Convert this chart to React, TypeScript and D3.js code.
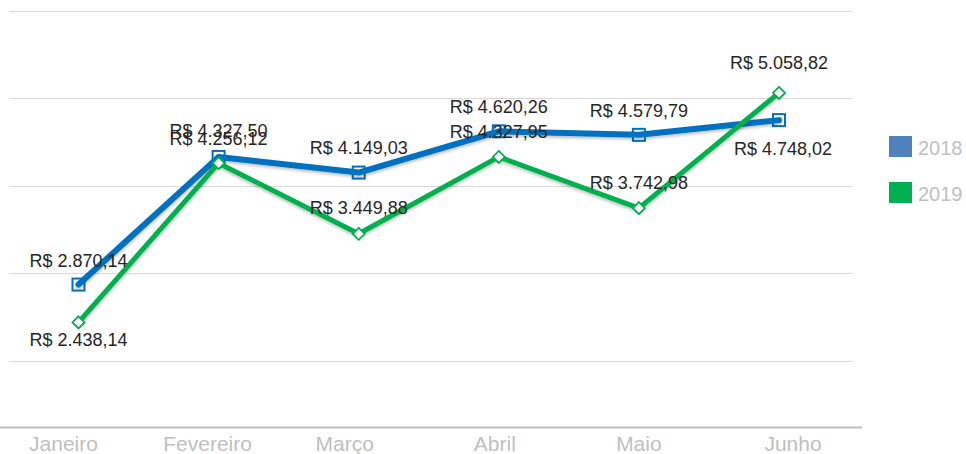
import React from "react";
import * as d3 from "d3";

const categories = ["Janeiro", "Fevereiro", "Março", "Abril", "Maio", "Junho"];
const values2018 = [2870.14, 4327.5, 4149.03, 4620.26, 4579.79, 4748.02];
const values2019 = [2438.14, 4256.12, 3449.88, 4327.95, 3742.98, 5058.82];
const gridTicks = [2000, 3000, 4000, 5000, 6000];
const seriesNames = ["2018", "2019"];

// layout: label baseline offsets from points, category label x nudges
const dy2018 = [-18, -20, -19, -18, -18, 35];
const dy2019 = [24, -18, -20, -19, -19, -24];
const catDx = [-15, -11, -14, -4, 0, 14];

const W = 966;
const H = 454;
const BLUE = "#0070C0";
const GREEN = "#00B050";
const fmt = (v: number) => {
  const s = d3.format(",.2f")(v);
  return "R$ " + s.replace(/,/g, "#").replace(/\./g, ",").replace(/#/g, ".");
};

export default function App() {
  const x = d3.scalePoint<string>().domain(categories).range([78.5, 779]);
  const y = d3.scaleLinear().domain([1240, 6000]).range([427.3, 10.5]);
  const line = d3
    .line<number>()
    .x((_, i) => x(categories[i]) as number)
    .y((d) => y(d));

  const font = "'Liberation Sans', Arial, sans-serif";

  return (
    <svg
      width={W}
      height={H}
      style={{ position: "absolute", left: 0, top: 0, background: "#fff" }}
      fontFamily={font}
    >
      <defs>
        <filter id="sh" x="-5%" y="-20%" width="110%" height="140%">
          <feDropShadow dx="0" dy="2" stdDeviation="1.5" floodColor="#000" floodOpacity="0.25" />
        </filter>
      </defs>
      {gridTicks.map((t) => (
        <line key={t} x1={9} x2={852} y1={Math.round(y(t)) + 0.5} y2={Math.round(y(t)) + 0.5} stroke="#d9d9d9" strokeWidth={1} />
      ))}
      <line x1={0} x2={862} y1={427.5} y2={427.5} stroke="#bfbfbf" strokeWidth={2} />
      {categories.map((c, i) => (
        <text key={c} x={(x(c) as number) + catDx[i]} y={451} textAnchor="middle" fontSize={21} fill="#bfbfbf">
          {c}
        </text>
      ))}

      <g>
        {values2018.map((v, i) => (
          <rect
            key={i}
            x={(x(categories[i]) as number) - 6}
            y={y(v) - 6}
            width={12}
            height={12}
            fill="#fff"
            stroke={BLUE}
            strokeWidth={2}
          />
        ))}
        <path d={line(values2018) || ""} fill="none" stroke={BLUE} strokeWidth={6} strokeLinejoin="round" strokeLinecap="round" filter="url(#sh)" />
      </g>

      <g>
        <path d={line(values2019) || ""} fill="none" stroke={GREEN} strokeWidth={5} strokeLinejoin="round" strokeLinecap="round" filter="url(#sh)" />
        {values2019.map((v, i) => {
          const cx = x(categories[i]) as number;
          const cy = y(v);
          const r = 6;
          return (
            <path
              key={i}
              d={`M${cx},${cy - r}L${cx + r},${cy}L${cx},${cy + r}L${cx - r},${cy}Z`}
              fill="#fff"
              stroke={GREEN}
              strokeWidth={1.8}
            />
          );
        })}
      </g>

      {values2018.map((v, i) => (
        <text key={"l18" + i} x={(x(categories[i]) as number) + (i === 5 ? 4 : 0)} y={y(v) + dy2018[i]} textAnchor="middle" fontSize={18} fill="#262626">
          {fmt(v)}
        </text>
      ))}
      {values2019.map((v, i) => (
        <text key={"l19" + i} x={x(categories[i]) as number} y={y(v) + dy2019[i]} textAnchor="middle" fontSize={18} fill="#262626">
          {fmt(v)}
        </text>
      ))}

      {seriesNames.map((s, i) => (
        <g key={s} transform={`translate(889, ${136 + i * 46})`}>
          <rect x={0} y={0} width={23} height={21} fill={i === 0 ? "#4F81BD" : GREEN} />
          <text x={29} y={19} fontSize={20} fill="#bfbfbf">
            {s}
          </text>
        </g>
      ))}
    </svg>
  );
}
